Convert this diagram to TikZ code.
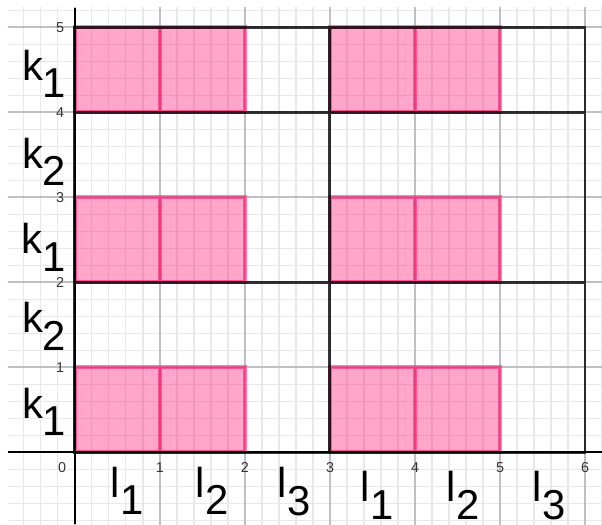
\documentclass[tikz,border=0pt]{standalone}
\usepackage{fontspec}
\setmainfont{Liberation Sans}
\definecolor{gpink}{RGB}{255,0,102}
\definecolor{minorg}{RGB}{232,232,232}
\definecolor{majorg}{RGB}{192,192,192}
\tikzset{
  minorgrid/.style={draw=minorg, line width=0.35pt},
  majorgrid/.style={draw=majorg, line width=0.45pt},
  cellfill/.style={fill=gpink, fill opacity=0.35},
  celledge/.style={draw=gpink, draw opacity=0.5, line width=1.1pt},
  bord/.style={draw=black, draw opacity=0.78, line width=1.0pt},
  axisline/.style={draw=black, line width=0.65pt},
  lab/.style={font=\fontsize{14}{14}\selectfont, inner sep=0pt, anchor=base west},
  ticklab/.style={font=\fontsize{4.8}{5}\selectfont, inner sep=0pt, text=black!80},
}
\newcommand{\sublab}[2]{#1\raisebox{-0.21cm}{#2}}
\begin{document}
\begin{tikzpicture}
\useasboundingbox (-0.882,-0.847) rectangle (6.2,5.318);
% grid
\begin{scope}
\clip (-0.79,-0.85) rectangle (6.2,5.225);
\draw[minorgrid] (-1,-1) grid[step=0.2] (6.4,5.4);
\draw[majorgrid] (-1,-1) grid[step=1] (6.4,5.4);
\end{scope}
% pink cells
\path[cellfill] (0,4) rectangle (2,5) (3,4) rectangle (5,5)
  (0,2) rectangle (2,3) (3,2) rectangle (5,3)
  (0,0) rectangle (2,1) (3,0) rectangle (5,1);
\draw[celledge] (0,4) rectangle (2,5) (1,4) -- (1,5)
  (3,4) rectangle (5,5) (4,4) -- (4,5)
  (0,2) rectangle (2,3) (1,2) -- (1,3)
  (3,2) rectangle (5,3) (4,2) -- (4,3)
  (0,0) rectangle (2,1) (1,0) -- (1,1)
  (3,0) rectangle (5,1) (4,0) -- (4,1);
% black borders
\draw[bord] (0,0) rectangle (6,5) (0,4) -- (6,4) (0,2) -- (6,2) (3,0) -- (3,5);
% axes
\draw[axisline] (-0.79,0) -- (6.2,0);
\draw[axisline] (0,-0.847) -- (0,5.225);
% tick labels
\node[ticklab, anchor=base] (t0) at (-0.15,-0.235) {0};
\foreach \i in {1,...,6} {
  \node[ticklab, anchor=base] (tx\i) at (\i,-0.235) {\i};
}
\foreach \i in {1,...,5} {
  \node[ticklab, anchor=base east] (ty\i) at (-0.12,\i-0.065) {\i};
}
% row labels
\node[lab] (ka) at (-0.63,4.376) {\sublab{k}{1}};
\node[lab] (kb) at (-0.63,3.34) {\sublab{k}{2}};
\node[lab] (kc) at (-0.64,2.34) {\sublab{k}{1}};
\node[lab] (kd) at (-0.63,1.41) {\sublab{k}{2}};
\node[lab] (ke) at (-0.63,0.40) {\sublab{k}{1}};
% column labels
\node[lab] (la) at (0.414,-0.53) {\sublab{l}{1}};
\node[lab] (lb) at (1.414,-0.53) {\sublab{l}{2}};
\node[lab] (lc) at (2.38,-0.54) {\sublab{l}{3}};
\node[lab] (ld) at (3.355,-0.58) {\sublab{l}{1}};
\node[lab] (le) at (4.367,-0.58) {\sublab{l}{2}};
\node[lab] (lf) at (5.38,-0.58) {\sublab{l}{3}};
\end{tikzpicture}
\end{document}
